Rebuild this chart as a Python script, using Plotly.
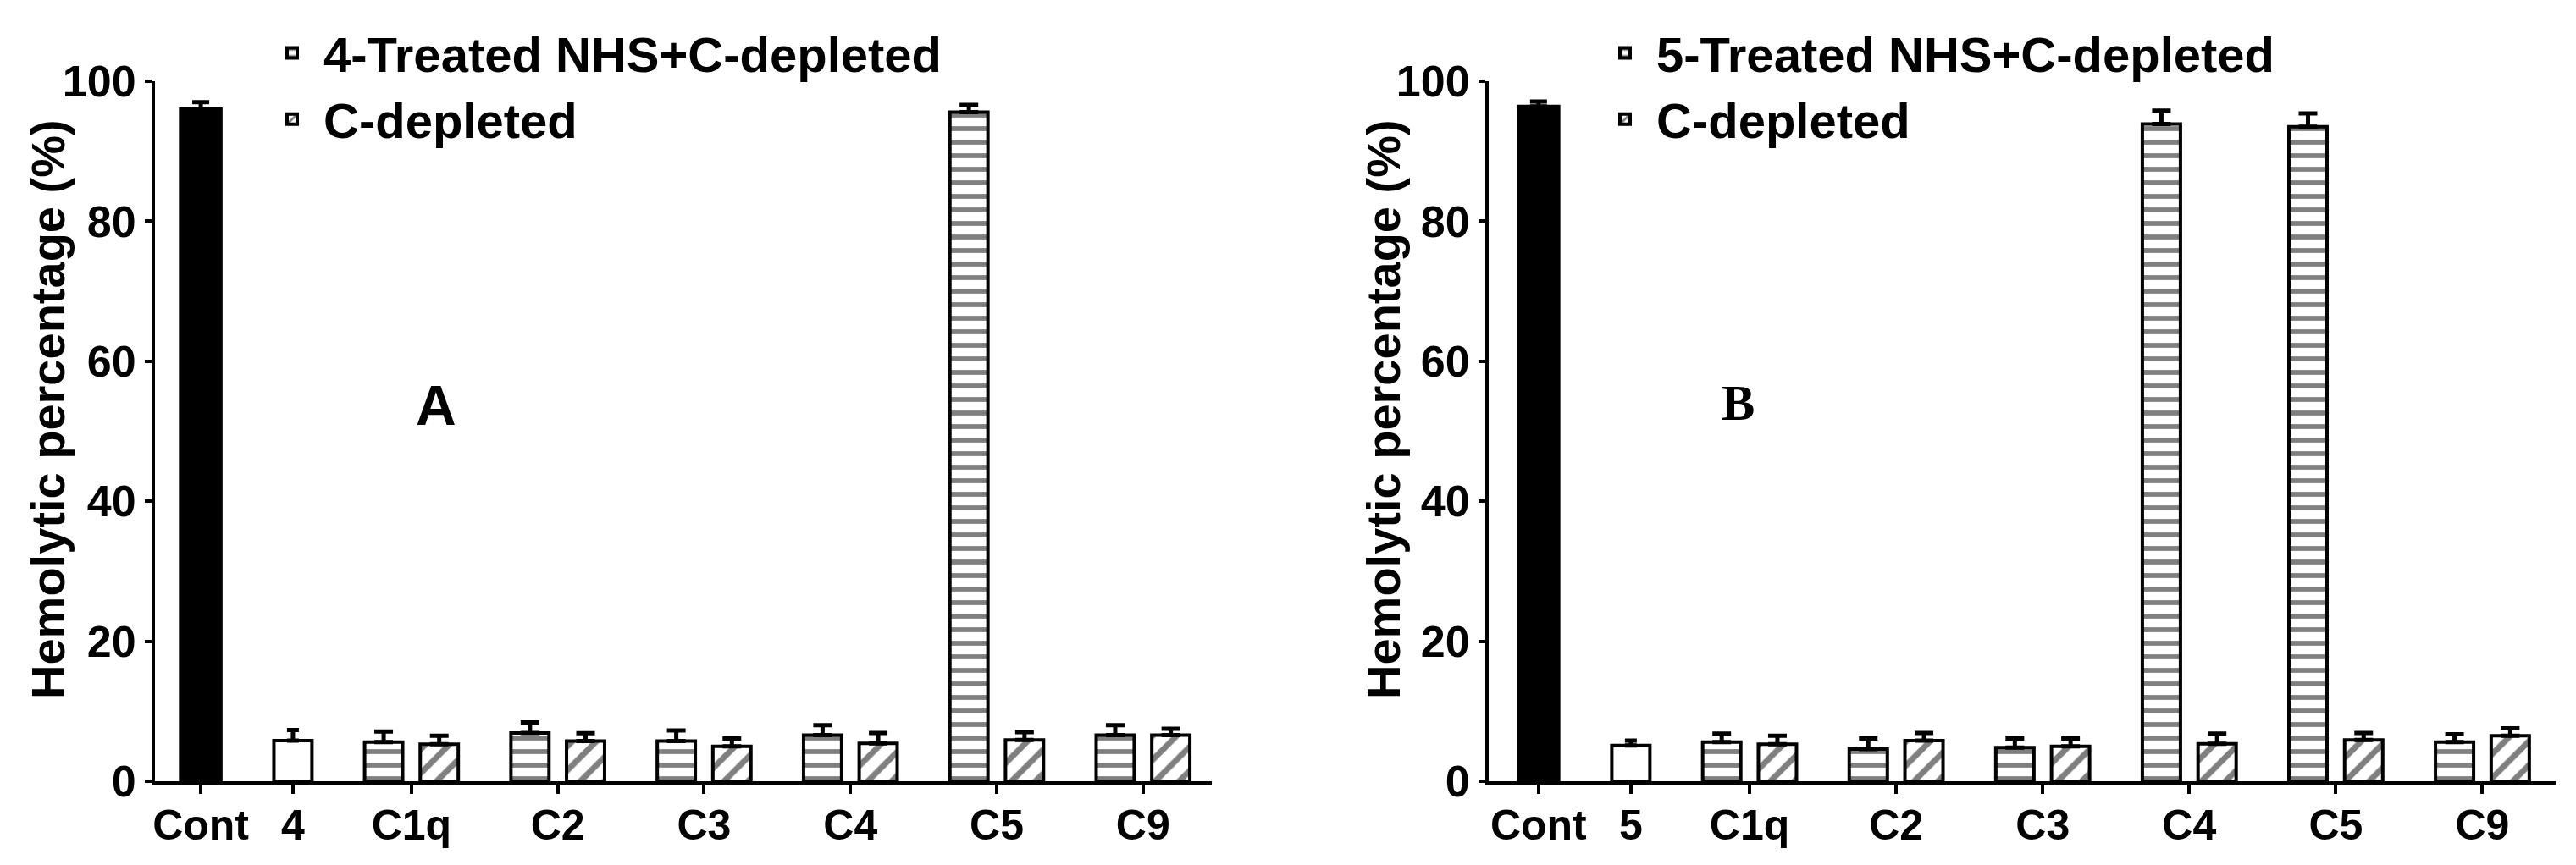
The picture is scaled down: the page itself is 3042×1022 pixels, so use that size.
import plotly.graph_objects as go

# panel A
categories_a = ["Cont", "4", "C1q", "C2", "C3", "C4", "C5", "C9"]
cont_a = 96.0
cont_a_err = 1.0
single_a = 5.8
single_a_err = 1.5
treated_a = [5.6, 6.9, 5.75, 6.6, 95.6, 6.6]
treated_a_err = [1.5, 1.5, 1.5, 1.4, 1.0, 1.4]
depleted_a = [5.3, 5.75, 5.0, 5.4, 5.9, 6.6]
depleted_a_err = [1.2, 1.1, 1.1, 1.5, 1.1, 0.9]

# panel B
categories_b = ["Cont", "5", "C1q", "C2", "C3", "C4", "C5", "C9"]
cont_b = 96.4
cont_b_err = 0.7
single_b = 5.1
single_b_err = 0.7
treated_b = [5.6, 4.6, 4.8, 93.9, 93.5, 5.6]
treated_b_err = [1.2, 1.5, 1.3, 1.9, 1.9, 1.1]
depleted_b = [5.3, 5.8, 5.0, 5.35, 5.9, 6.5]
depleted_b_err = [1.2, 1.1, 1.1, 1.45, 1.0, 1.05]

# x layout (prism-like uneven spacing)
CONT_POS = 0.0
SINGLE_POS = 0.63
GROUP_POS = [1.44 + i for i in range(6)]
OFFSET = 0.19

FONT = "Liberation Sans, Arial, sans-serif"
LW = 4


def add_panel(fig, xa, ya, legend, cont, cont_err, single, single_err,
              treated, treated_err, depleted, depleted_err, treated_name):
    err_line = dict(type='data', symmetric=False, color='black', thickness=5)
    fig.add_trace(go.Bar(
        x=[CONT_POS], y=[cont], width=0.275, xaxis=xa, yaxis=ya,
        marker=dict(color='black', line=dict(color='black', width=LW)),
        error_y=dict(err_line, array=[cont_err], arrayminus=[0], width=10),
        showlegend=False))
    fig.add_trace(go.Bar(
        x=[SINGLE_POS], y=[single], width=0.26, xaxis=xa, yaxis=ya,
        marker=dict(color='white', line=dict(color='black', width=LW)),
        error_y=dict(err_line, array=[single_err], arrayminus=[0], width=7),
        showlegend=False))
    fig.add_trace(go.Bar(
        x=[p - OFFSET for p in GROUP_POS], y=treated, width=0.26,
        xaxis=xa, yaxis=ya, name=treated_name, legend=legend,
        marker=dict(color='white', line=dict(color='black', width=LW),
                    pattern=dict(shape='-', fgcolor='black', bgcolor='white',
                                 size=16, solidity=0.36)),
        error_y=dict(err_line, array=treated_err,
                     arrayminus=[0] * len(treated_err), width=11)))
    fig.add_trace(go.Bar(
        x=[p + OFFSET for p in GROUP_POS], y=depleted, width=0.26,
        xaxis=xa, yaxis=ya, name='C-depleted', legend=legend,
        marker=dict(color='white', line=dict(color='black', width=LW),
                    pattern=dict(shape='/', fgcolor='black', bgcolor='white',
                                 size=20, solidity=0.35)),
        error_y=dict(err_line, array=depleted_err,
                     arrayminus=[0] * len(depleted_err), width=11)))


fig = go.Figure()
add_panel(fig, 'x', 'y', 'legend', cont_a, cont_a_err, single_a, single_a_err,
          treated_a, treated_a_err, depleted_a, depleted_a_err,
          '4-Treated NHS+C-depleted')
add_panel(fig, 'x2', 'y2', 'legend2', cont_b, cont_b_err, single_b, single_b_err,
          treated_b, treated_b_err, depleted_b, depleted_b_err,
          '5-Treated NHS+C-depleted')

tick_pos = [CONT_POS, SINGLE_POS] + GROUP_POS
W, H = 3042, 1022


def xaxis(domain, rng, labels):
    return dict(domain=domain, range=rng, tickvals=tick_pos, ticktext=labels,
                showline=True, linecolor='black', linewidth=LW,
                ticks='outside', ticklen=11, tickwidth=LW, tickcolor='black',
                showgrid=False, zeroline=False, automargin=False,
                ticklabelstandoff=-6,
                tickfont=dict(family=FONT, size=50, color='black', weight='bold'))


def yaxis(anchor):
    return dict(domain=[0.1047, 0.9139], range=[0, 100], anchor=anchor,
                tickvals=[0, 20, 40, 60, 80, 100],
                showline=True, linecolor='black', linewidth=LW,
                ticks='outside', ticklen=8, tickwidth=LW, tickcolor='black',
                showgrid=False, zeroline=False, automargin=False,
                tickfont=dict(family=FONT, size=52, color='black', weight='bold'))


legend_font = dict(family=FONT, size=58, color='black', weight='bold')

fig.update_layout(
    width=W, height=H,
    margin=dict(l=0, r=0, t=0, b=0),
    plot_bgcolor='white', paper_bgcolor='white',
    barmode='overlay',
    xaxis=xaxis([175 / W, 1423 / W], [-0.313, 6.91], categories_a) | dict(anchor='y'),
    yaxis=yaxis('x'),
    xaxis2=xaxis([1750 / W, 3010 / W], [-0.34, 6.94], categories_b) | dict(anchor='y2'),
    yaxis2=yaxis('x2'),
    legend=dict(x=300 / W, y=0.99, xanchor='left', yanchor='top',
                font=legend_font, bgcolor='rgba(0,0,0,0)', itemwidth=64),
    legend2=dict(x=1874 / W, y=0.99, xanchor='left', yanchor='top',
                 font=legend_font, bgcolor='rgba(0,0,0,0)', itemwidth=64),
    showlegend=True,
)

# y axis titles
for xpos in [48 / W, 1625 / W]:
    fig.add_annotation(text='Hemolytic percentage (%)', xref='paper', yref='paper',
                       x=xpos, y=(H - 476) / H, xanchor='center', yanchor='middle',
                       textangle=-90, showarrow=False,
                       font=dict(family=FONT, size=56, color='black', weight='bold'))

# panel letters
fig.add_annotation(text='A', xref='x', yref='y', x=1.61, y=53.7, showarrow=False,
                   font=dict(family=FONT, size=66, color='black', weight='bold'))
fig.add_annotation(text='B', xref='x2', yref='y2', x=1.36, y=54.0, showarrow=False,
                   font=dict(family='Liberation Serif, Times New Roman, serif',
                             size=59, color='black', weight='bold'))

fig.write_html("out.html")
